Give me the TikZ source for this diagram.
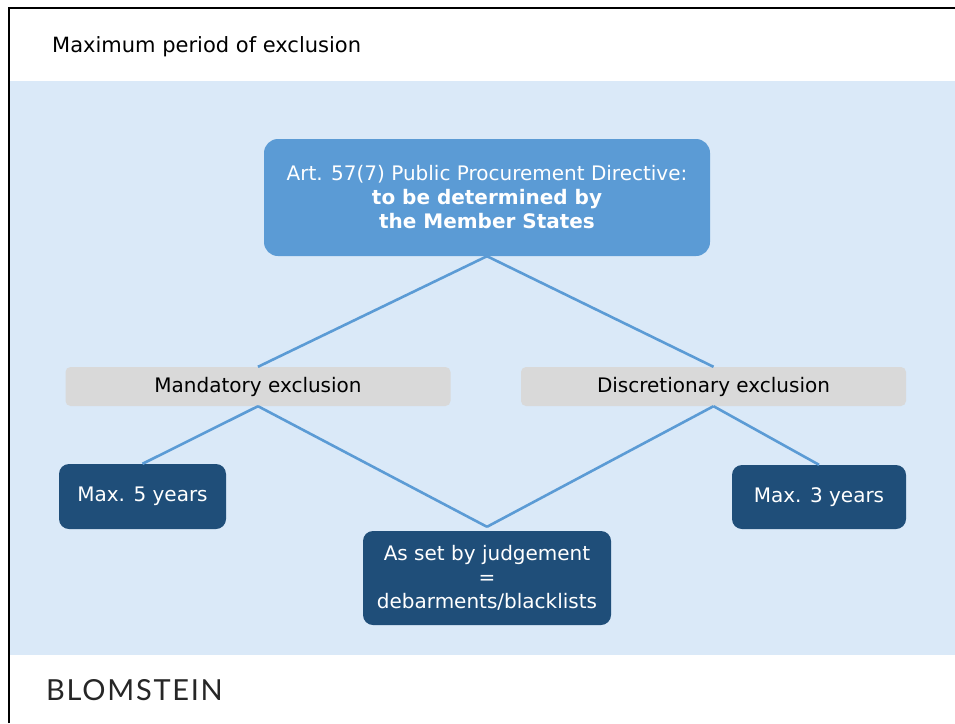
\documentclass[tikz,border=0pt]{standalone}
\usepackage{fontspec}
\setmainfont{DejaVu Sans}
\newfontfamily\logofont[LetterSpace=6]{Lato}
\usetikzlibrary{positioning}
\definecolor{bandblue}{HTML}{DAE9F8}
\definecolor{midblue}{HTML}{5B9BD5}
\definecolor{darkblue}{HTML}{1F4E79}
\definecolor{lightgrey}{HTML}{D9D9D9}

\begin{document}
\begin{tikzpicture}[x=1pt, y=-1pt,
    topbox/.style={fill=midblue, text=white, rounded corners=14pt, inner sep=0,
        minimum width=446pt, minimum height=117pt, align=center,
        font=\fontsize{20}{24}\selectfont},
    kindbox/.style={fill=lightgrey, rounded corners=5pt, inner sep=0,
        minimum width=385pt, minimum height=39pt, font=\fontsize{20}{22}\selectfont},
    termbox/.style={fill=darkblue, text=white, rounded corners=10pt, inner sep=0,
        align=center, font=\fontsize{20}{24}\selectfont},
    branch/.style={midblue, line width=2.6pt}]
        \useasboundingbox (0,0) rectangle (955,723);
        \fill[bandblue] (9,81) rectangle (955,655);
        \draw[line width=2pt] (9,723) -- (9,8) -- (955,8);
        \node (title) [anchor=west, inner sep=0, font=\fontsize{21}{22}\selectfont] at (52,47) {Maximum period of exclusion};

        \node (art) [topbox] at (487,197.5) {Art. 57(7) Public Procurement Directive:\\
            \textbf{to be determined by}\\ \textbf{the Member States}};
        \node (mand) [kindbox] at (258,386.5) {Mandatory exclusion};
        \node (disc) [kindbox] at (713.5,386.5) {Discretionary exclusion};
        \node (five) [termbox, minimum width=167pt, minimum height=65pt] at (142.5,496.5) {Max. 5 years};
        \node (three) [termbox, minimum width=174pt, minimum height=64pt] at (819,497) {Max. 3 years};
        \node (judge) [termbox, minimum width=248pt, minimum height=94pt] at (487,578) {As set by judgement\\ =\\ debarments/blacklists};

        \draw [branch] (art.south) -- (mand.north);
        \draw [branch] (art.south) -- (disc.north);
        \draw [branch] (mand.south) -- (five.north);
        \draw [branch] (mand.south) -- ([yshift=4pt]judge.north);
        \draw [branch] (disc.south) -- ([yshift=4pt]judge.north);
        \draw [branch] (disc.south) -- (three.north);

        \node (logo) [anchor=west, inner sep=0, text=black!85, font=\logofont\fontsize{29}{30}\selectfont] at (46,690) {BLOMSTEIN};
\end{tikzpicture}
\end{document}
